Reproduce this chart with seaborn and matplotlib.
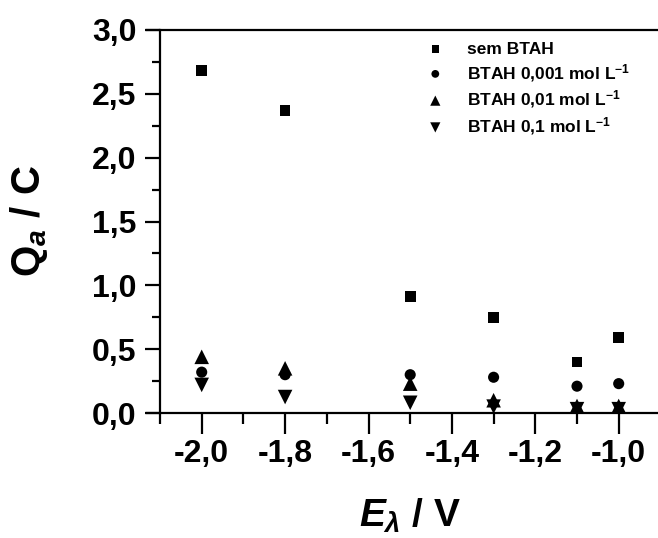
import numpy as np
import pandas as pd
import matplotlib
matplotlib.use("Agg")
import matplotlib.pyplot as plt
from matplotlib.ticker import MultipleLocator, FuncFormatter
import seaborn as sns

# Anodic charge vs. applied potential for different BTAH concentrations
potential = [-2.0, -1.8, -1.5, -1.3, -1.1, -1.0]
q_sem_btah = [2.68, 2.37, 0.91, 0.75, 0.40, 0.59]
q_btah_0001 = [0.32, 0.30, 0.30, 0.28, 0.21, 0.23]
q_btah_001 = [0.44, 0.35, 0.23, 0.10, 0.055, 0.055]
q_btah_01 = [0.22, 0.125, 0.08, 0.05, 0.03, 0.03]

series_labels = [
    "sem BTAH",
    r"BTAH 0,001 mol L$^{-1}$",
    r"BTAH 0,01 mol L$^{-1}$",
    r"BTAH 0,1 mol L$^{-1}$",
]
series_values = [q_sem_btah, q_btah_0001, q_btah_001, q_btah_01]
series_markers = ["s", "o", "^", "v"]
series_sizes = [60, 64, 110, 110]

frames = []
for lab, vals in zip(series_labels, series_values):
    frames.append(pd.DataFrame({"E": potential, "Q": vals, "serie": lab}))
df = pd.concat(frames, ignore_index=True)

sns.set_theme(style="ticks")
plt.rcParams.update({
    "font.family": ["Liberation Sans", "DejaVu Sans"],
    "font.weight": "bold",
    "mathtext.fontset": "custom",
    "mathtext.rm": "Liberation Sans:bold",
    "mathtext.it": "Liberation Sans:bold:italic",
    "mathtext.bf": "Liberation Sans:bold",
    "axes.linewidth": 1.6,
    "text.color": "black",
    "axes.labelcolor": "black",
    "axes.edgecolor": "black",
    "xtick.color": "black",
    "ytick.color": "black",
})

fig = plt.figure(figsize=(6.58, 5.38), dpi=100)
ax = fig.add_axes([160 / 658, 1 - 413 / 538, 500.4 / 658, 383 / 538])

for lab, mk, sz in zip(series_labels, series_markers, series_sizes):
    sns.scatterplot(data=df[df["serie"] == lab], x="E", y="Q", marker=mk, s=sz,
                    color="black", edgecolor="none", linewidth=0, label=lab,
                    ax=ax, legend=True)

ax.set_xlim(-2.1, -0.9)
ax.set_ylim(0.0, 3.0)

ax.xaxis.set_major_locator(MultipleLocator(0.2))
ax.xaxis.set_minor_locator(MultipleLocator(0.1))
ax.yaxis.set_major_locator(MultipleLocator(0.5))
ax.yaxis.set_minor_locator(MultipleLocator(0.25))

comma_fmt = FuncFormatter(lambda v, pos: f"{v:.1f}".replace(".", ","))
ax.xaxis.set_major_formatter(comma_fmt)
ax.yaxis.set_major_formatter(comma_fmt)

ax.tick_params(axis="x", which="major", direction="out", length=15, width=1.6,
               labelsize=23, pad=4)
ax.tick_params(axis="x", which="minor", direction="out", length=8, width=1.6)
ax.tick_params(axis="y", which="major", direction="out", length=11, width=1.6,
               labelsize=23, pad=6)
ax.tick_params(axis="y", which="minor", direction="out", length=6, width=1.6)
for lbl in ax.get_xticklabels() + ax.get_yticklabels():
    lbl.set_fontweight("bold")

ax.spines["right"].set_visible(False)
ax.spines["top"].set_visible(True)
for side in ("top", "bottom"):
    ax.spines[side].set_bounds(-2.13, -0.9)
    ax.spines[side].set_clip_on(False)

ax.set_xlabel(r"$E_{λ}$ / V", fontsize=28, fontweight="bold", labelpad=20)
ax.set_ylabel(r"$\mathrm{Q}_{a}$ / C", fontsize=29, fontweight="bold", labelpad=30)

ax.legend(loc="upper left", bbox_to_anchor=(411 / 658, 1 - 26 / 538),
          bbox_transform=fig.transFigure, frameon=False, fontsize=12.5,
          markerscale=0.7, handlelength=1.0, handletextpad=1.35,
          labelspacing=0.28, borderpad=0.4)

fig.savefig("out.png", dpi=100)
